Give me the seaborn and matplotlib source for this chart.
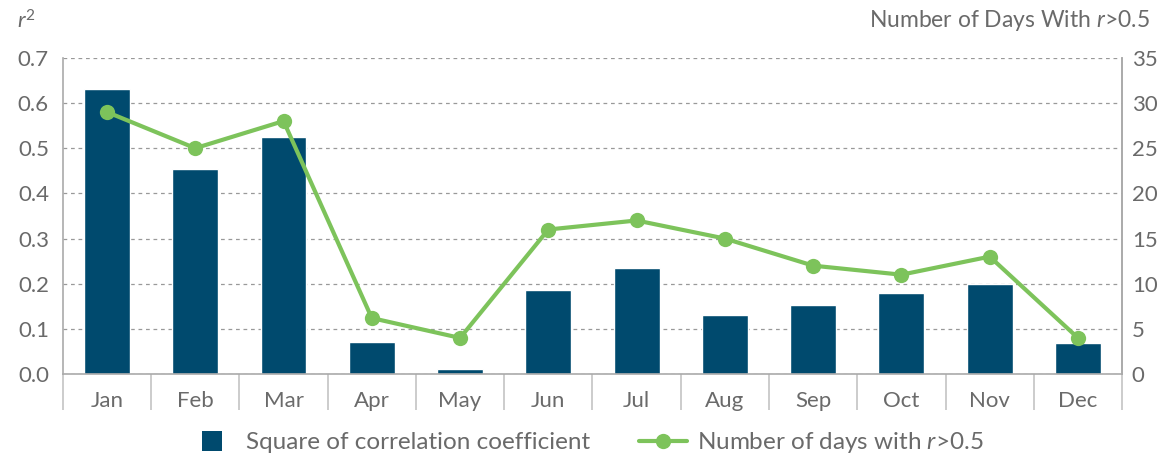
import numpy as np
import pandas as pd
import seaborn as sns
import matplotlib.pyplot as plt
from matplotlib.lines import Line2D

# Data
months = ["Jan", "Feb", "Mar", "Apr", "May", "Jun", "Jul", "Aug", "Sep", "Oct", "Nov", "Dec"]
r2_values = [0.631, 0.454, 0.525, 0.071, 0.011, 0.186, 0.235, 0.131, 0.153, 0.179, 0.199, 0.069]
days_values = [29, 25, 28, 6.2, 4, 16, 17, 15, 12, 11, 13, 4]
left_ticks = [0.0, 0.1, 0.2, 0.3, 0.4, 0.5, 0.6, 0.7]
right_ticks = [0, 5, 10, 15, 20, 25, 30, 35]

sns.set_theme(style="white")
plt.rcParams["font.family"] = ["Lato", "DejaVu Sans"]
plt.rcParams["mathtext.fontset"] = "custom"
plt.rcParams["mathtext.rm"] = "Lato"
plt.rcParams["mathtext.it"] = "Lato:italic"

text_grey = "#6a6a6a"
bar_color = "#004a6e"
line_color = "#7dc35b"
axis_grey = "#aaaaaa"

df = pd.DataFrame({"Month": months, "r2": r2_values, "days": days_values})

fig = plt.figure(figsize=(11.64, 4.59), dpi=100)
ax = fig.add_axes([0.054, 0.185, 0.91, 0.689])

sns.barplot(data=df, x="Month", y="r2", color=bar_color, saturation=1,
            width=0.52, ax=ax)
ax.set_xlim(-0.5, 11.5)
ax.set_ylim(0, 0.7)
ax.set_yticks(left_ticks)
ax.set_yticklabels([f"{v:.1f}" for v in left_ticks])
ax.yaxis.grid(True, linestyle=(0, (3, 3)), color="#999999", linewidth=0.9)
ax.set_axisbelow(True)
ax.set_xlabel("")
ax.set_ylabel("")

# category separators below the axis
ax.set_xticks(np.arange(-0.5, 12, 1), minor=True)
ax.tick_params(axis="x", which="minor", bottom=True, length=26, width=1.3, color="#c8c8c8")
ax.tick_params(axis="x", which="major", length=0, pad=12, labelsize=16, labelcolor=text_grey)
ax.tick_params(axis="y", length=0, pad=10, labelsize=16, labelcolor=text_grey)

ax.spines["top"].set_visible(False)
for side in ["left", "right", "bottom"]:
    ax.spines[side].set_color(axis_grey)
    ax.spines[side].set_linewidth(1.2)

ax2 = ax.twinx()
sns.lineplot(x=np.arange(len(months)), y=days_values, color=line_color, linewidth=3,
             marker="o", markersize=11, markeredgewidth=0, sort=False, ax=ax2, zorder=5)
ax2.set_ylim(0, 35)
ax2.set_yticks(right_ticks)
ax2.tick_params(axis="y", length=0, pad=7, labelsize=16, labelcolor=text_grey)
ax2.spines["top"].set_visible(False)
ax2.spines["left"].set_visible(False)
ax2.spines["bottom"].set_visible(False)
ax2.spines["right"].set_color(axis_grey)
ax2.spines["right"].set_linewidth(1.2)
ax2.set_xlim(-0.5, 11.5)

fig.text(0.015, 0.955, "$r^2$", fontsize=16, color=text_grey, ha="left", va="center")
fig.text(0.988, 0.955, "Number of Days With $r$>0.5", fontsize=16.5, color=text_grey,
         ha="right", va="center")

handles = [
    Line2D([0], [0], color=bar_color, linestyle="none", marker="s", markersize=14,
           markeredgewidth=0, label="Square of correlation coefficient"),
    Line2D([0], [0], color=line_color, linewidth=3, marker="o", markersize=11,
           markeredgewidth=0, label="Number of days with $r$>0.5"),
]
fig.legend(handles=handles, loc="center", bbox_to_anchor=(0.503, 0.035), ncol=2,
           frameon=False, fontsize=17.5, labelcolor=text_grey, handlelength=2.0,
           columnspacing=2.0, handletextpad=0.4)

fig.savefig("out.png", dpi=100, facecolor="white")
